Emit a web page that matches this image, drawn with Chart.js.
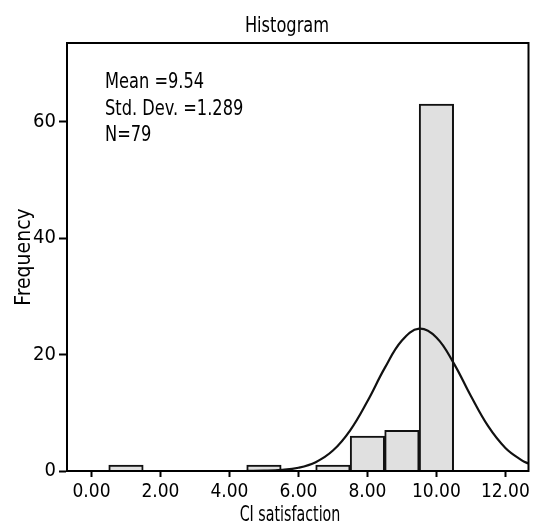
<!DOCTYPE html>
<html>
<head>
<meta charset="utf-8">
<script src="https://cdn.jsdelivr.net/npm/chart.js@4.4.0/dist/chart.umd.min.js"></script>
<style>
  html, body { margin: 0; padding: 0; background: #fff; }
  #wrap { width: 534px; height: 525px; }
</style>
</head>
<body>
<div id="wrap"><canvas id="histChart"></canvas></div>
<script>
// histogram bins (centre of each 1-wide bin) and their counts
let binCenters = [1, 5, 7, 8, 9, 10];
let binCounts = [1, 1, 1, 6, 7, 63];

// fitted normal curve
let curveX = [4.5, 5, 5.5, 6, 6.5, 7, 7.5, 8, 8.5, 9, 9.5, 10, 10.5, 11, 11.5, 12, 12.5, 12.67];
let curveY = [0.01, 0.05, 0.18, 0.56, 1.52, 3.51, 6.99, 11.98, 17.66, 22.4, 24.44, 22.94, 18.53, 12.87, 7.69, 3.96, 1.75, 1.28];

let xTicks = [0, 2, 4, 6, 8, 10, 12];
let yTicks = [0, 20, 40, 60];

let statLines = ["Mean =9.54", "Std. Dev. =1.289", "N=79"];

const FONT_FAMILY = "'DejaVu Sans Condensed', 'Liberation Sans Narrow', sans-serif";

// narrow text: the source uses a condensed face, so squeeze horizontally
function narrowText(ctx, text, x, y, size, squeeze, align) {
  ctx.save();
  ctx.font = size + "px " + FONT_FAMILY;
  ctx.textAlign = align;
  ctx.textBaseline = "alphabetic";
  ctx.translate(x, y);
  ctx.scale(squeeze, 1);
  ctx.fillText(text, 0, 0);
  ctx.restore();
}

// frame, title, x-axis title and stats box
const decorPlugin = {
  id: "decor",
  afterDatasetsDraw(chart) {
    const { ctx, chartArea } = chart;
    ctx.save();
    ctx.strokeStyle = "#000";
    ctx.lineWidth = 2;
    ctx.strokeRect(chartArea.left, chartArea.top, chartArea.right - chartArea.left, chartArea.bottom - chartArea.top);
    ctx.fillStyle = "#000";

    narrowText(ctx, "Histogram", 287, 32, 22, 0.82, "center");
    narrowText(ctx, "CI satisfaction", 290, 521, 22, 0.72, "center");

    let y = 88;
    statLines.forEach(function (line) {
      narrowText(ctx, line, 105, y, 22, 0.82, "left");
      y += 26.5;
    });
    ctx.restore();
  },
};

let ctx = document.getElementById("histChart").getContext("2d");

let histChart = new Chart(ctx, {
  type: "bar",
  data: {
    datasets: [
      {
        type: "line",
        data: curveX.map((x, i) => ({ x: x, y: curveY[i] })),
        borderColor: "#111",
        borderWidth: 2.2,
        pointRadius: 0,
        tension: 0.4,
        fill: false,
        order: 0,
      },
      {
        type: "bar",
        data: binCenters.map((x, i) => ({ x: x, y: binCounts[i] })),
        backgroundColor: "#e0e0e0",
        borderColor: "#111",
        borderWidth: 2,
        barPercentage: 1,
        categoryPercentage: 1,
        order: 1,
      },
    ],
  },
  options: {
    responsive: true,
    maintainAspectRatio: false,
    animation: false,
    layout: {
      padding: { left: 0, right: 3, top: 43, bottom: 0 },
    },
    plugins: {
      legend: { display: false },
      tooltip: { enabled: false },
      title: { display: false },
    },
    scales: {
      x: {
        type: "linear",
        min: -0.71,
        max: 12.67,
        offset: false,
        afterBuildTicks: (s) => {
          s.ticks = xTicks.map((v) => ({ value: v }));
        },
        afterFit: (s) => {
          s.height = 54;
        },
        ticks: {
          callback: (v) => Number(v).toFixed(2),
          font: { family: FONT_FAMILY, size: 19 },
          color: "#000",
          padding: 4,
          maxRotation: 0,
          autoSkip: false,
        },
        grid: {
          display: true,
          offset: false,
          drawOnChartArea: false,
          drawTicks: true,
          tickLength: 6,
          tickWidth: 2,
          tickColor: "#000",
        },
        border: { display: true, color: "#000", width: 2 },
        title: { display: false },
      },
      y: {
        min: 0,
        max: 73.5,
        afterBuildTicks: (s) => {
          s.ticks = yTicks.map((v) => ({ value: v }));
        },
        afterFit: (s) => {
          s.width = 67;
        },
        ticks: {
          font: { family: FONT_FAMILY, size: 20 },
          color: "#000",
          padding: 3,
        },
        grid: {
          display: true,
          drawOnChartArea: false,
          drawTicks: true,
          tickLength: 8,
          tickWidth: 2,
          tickColor: "#000",
        },
        border: { display: true, color: "#000", width: 2 },
        title: {
          display: true,
          text: "Frequency",
          font: { family: FONT_FAMILY, size: 21 },
          color: "#000",
          padding: { top: 12, bottom: 0 },
        },
      },
    },
  },
  plugins: [decorPlugin],
});
</script>
</body>
</html>
